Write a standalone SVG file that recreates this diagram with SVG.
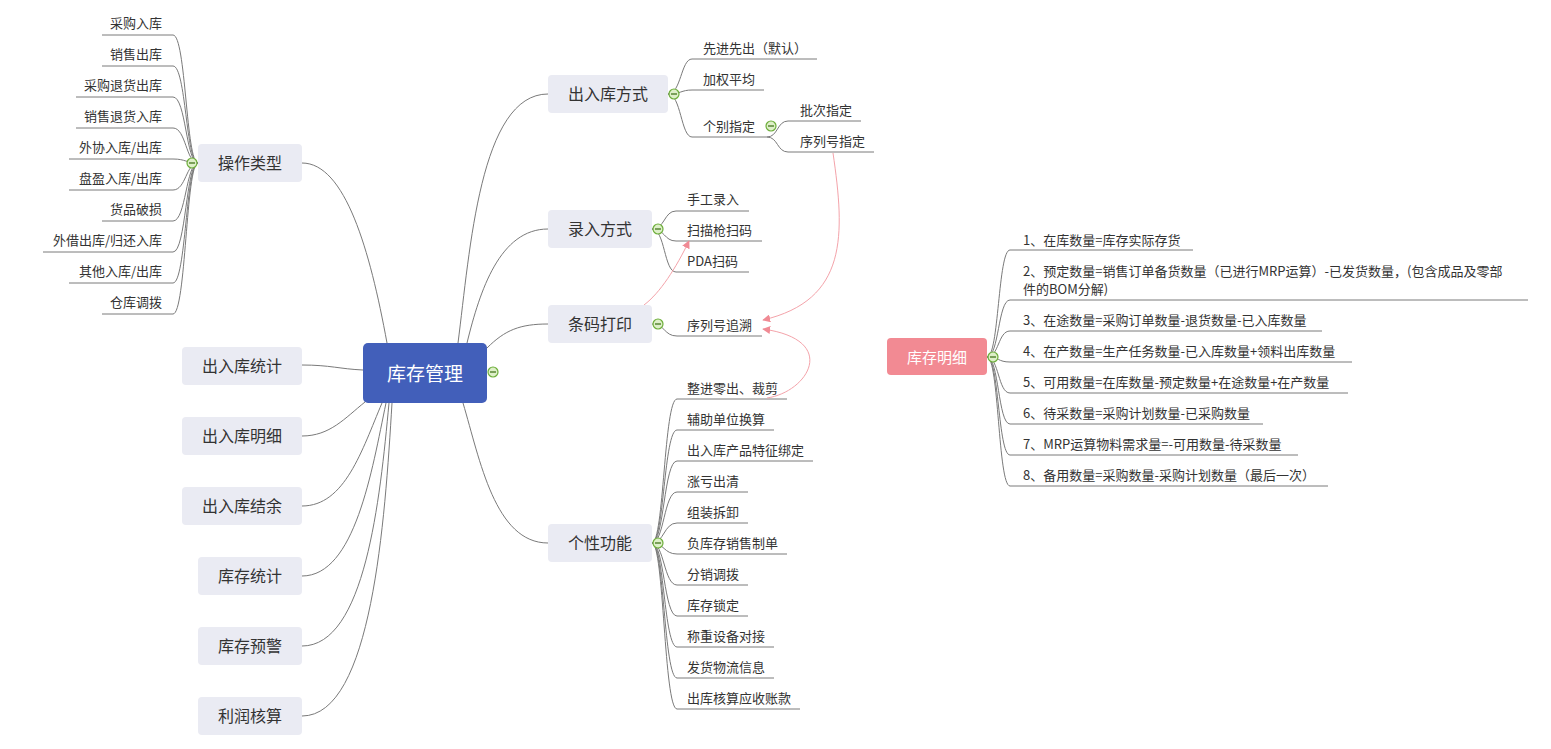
<svg xmlns="http://www.w3.org/2000/svg" width="1551" height="749" viewBox="0 0 1551 749">
<style>
text{font-family:"Microsoft YaHei","Noto Sans CJK SC","Noto Sans",sans-serif;dominant-baseline:central;fill:#333}
.leaf{font-size:13px}
.lt{font-size:13px;text-anchor:end}
.tn{font-size:16px;text-anchor:middle}
.node{fill:#EAEBF3}
.br{fill:none;stroke:#7a7a7a;stroke-width:1}
.rel{fill:none;stroke:#F4A3AA;stroke-width:1}
</style>
<defs>
<marker id="arr" viewBox="0 0 10 10" refX="9" refY="5" markerWidth="8" markerHeight="8" markerUnits="userSpaceOnUse" orient="auto"><path d="M0,0 L10,5 L0,10 z" fill="#F08A94"/></marker>
<g id="tg"><circle cx="0" cy="0" r="5" fill="#DDEFC8" stroke="#6DAE3A" stroke-width="1.2"/><line x1="-3" y1="0" x2="3" y2="0" stroke="#4E7F2A" stroke-width="1.4"/></g>
</defs>
<rect width="1551" height="749" fill="#fff"/>

<g id="connectors">
<path class="br" d="M302 163 C345 163 370 250 387 343"/>
<path class="br" d="M302 365 C330 365 340 369 363 370"/>
<path class="br" d="M302 436 C330 436 345 418 365 402"/>
<path class="br" d="M302 506 C345 506 362 450 382 403"/>
<path class="br" d="M302 576 C355 576 372 470 386 403"/>
<path class="br" d="M302 646 C365 646 380 500 389 403"/>
<path class="br" d="M302 716 C372 716 385 520 392 403"/>
<path class="br" d="M458 343 C470 250 480 94 548 94"/>
<path class="br" d="M467 343 C480 290 500 229 548 229"/>
<path class="br" d="M487 348 C505 330 520 324 548 324"/>
<path class="br" d="M463 403 C480 460 495 543 548 543"/>
<g id="c-ops">
<path class="br" d="M198 163 C186 163 186 35 173 35 L102 35"/>
<path class="br" d="M198 163 C186 163 186 66 173 66 L102 66"/>
<path class="br" d="M198 163 C186 163 186 97 173 97 L76 97"/>
<path class="br" d="M198 163 C186 163 186 128 173 128 L76 128"/>
<path class="br" d="M198 163 C186 163 186 159 173 159 L69 159"/>
<path class="br" d="M198 163 C186 163 186 190 173 190 L69 190"/>
<path class="br" d="M198 163 C186 163 186 221 173 221 L102 221"/>
<path class="br" d="M198 163 C186 163 186 252 173 252 L43 252"/>
<path class="br" d="M198 163 C186 163 186 283 173 283 L69 283"/>
<path class="br" d="M198 163 C186 163 186 314 173 314 L102 314"/>
</g>
<g id="c-mode">
<path class="br" d="M668 94 C681 94 681 59 692 59 L817 59"/>
<path class="br" d="M668 94 C681 94 681 90 692 90 L764 90"/>
<path class="br" d="M668 94 C681 94 681 137 692 137 L767 137"/>
<path class="br" d="M767 137 C778 137 777 121 788 121 L861 121"/>
<path class="br" d="M767 137 C778 137 777 152 788 152 L874 152"/>
</g>
<g id="c-input">
<path class="br" d="M652 229 C665 229 664 211 676 211 L749 211"/>
<path class="br" d="M652 229 C665 229 664 241 676 241 L762 241"/>
<path class="br" d="M652 229 C665 229 664 272 676 272 L749 272"/>
</g>
<path class="br" d="M652 324 C665 324 664 336 677 336 L762 336"/>
<g id="c-feat">
<path class="br" d="M652 543 C664 543 664 399 677 399 L787 399"/>
<path class="br" d="M652 543 C664 543 664 430 677 430 L774 430"/>
<path class="br" d="M652 543 C664 543 664 461 677 461 L813 461"/>
<path class="br" d="M652 543 C664 543 664 492 677 492 L748 492"/>
<path class="br" d="M652 543 C664 543 664 523 677 523 L748 523"/>
<path class="br" d="M652 543 C664 543 664 554 677 554 L787 554"/>
<path class="br" d="M652 543 C664 543 664 585 677 585 L748 585"/>
<path class="br" d="M652 543 C664 543 664 616 677 616 L748 616"/>
<path class="br" d="M652 543 C664 543 664 647 677 647 L774 647"/>
<path class="br" d="M652 543 C664 543 664 678 677 678 L774 678"/>
<path class="br" d="M652 543 C664 543 664 709 677 709 L800 709"/>
</g>
<g id="c-detail">
<path class="br" d="M987 357 C999 357 998 250 1010 250 L1193 250"/>
<path class="br" d="M987 357 C999 357 998 300 1010 300 L1528 300"/>
<path class="br" d="M987 357 C999 357 998 331 1010 331 L1322 331"/>
<path class="br" d="M987 357 C999 357 998 362 1010 362 L1352 362"/>
<path class="br" d="M987 357 C999 357 998 393 1010 393 L1348 393"/>
<path class="br" d="M987 357 C999 357 998 424 1010 424 L1263 424"/>
<path class="br" d="M987 357 C999 357 998 455 1010 455 L1298 455"/>
<path class="br" d="M987 357 C999 357 998 486 1010 486 L1328 486"/>
</g>
<g id="relations">
<path class="rel" marker-end="url(#arr)" d="M644 305 C660 293 676 268 689 241"/>
<path class="rel" marker-end="url(#arr)" d="M833 153 C845 235 848 300 763 320"/>
<path class="rel" marker-end="url(#arr)" d="M767 398 C808 392 840 340 763 329"/>
</g>
</g>

<g id="root">
<rect x="363" y="343" width="124" height="60" rx="5" fill="#425FBA"/>
<text x="425" y="372" style="font-size:19px;text-anchor:middle;fill:#fff">库存管理</text>
</g>

<g id="n-ops"><rect class="node" x="198" y="144" width="104" height="38" rx="4"/><text class="tn" x="250" y="162">操作类型</text></g>
<g id="n-stat"><rect class="node" x="182" y="347" width="120" height="38" rx="4"/><text class="tn" x="242" y="365">出入库统计</text></g>
<g id="n-detail"><rect class="node" x="182" y="417" width="120" height="38" rx="4"/><text class="tn" x="242" y="435">出入库明细</text></g>
<g id="n-bal"><rect class="node" x="182" y="487" width="120" height="38" rx="4"/><text class="tn" x="242" y="505">出入库结余</text></g>
<g id="n-invstat"><rect class="node" x="198" y="557" width="104" height="38" rx="4"/><text class="tn" x="250" y="575">库存统计</text></g>
<g id="n-warn"><rect class="node" x="198" y="627" width="104" height="38" rx="4"/><text class="tn" x="250" y="645">库存预警</text></g>
<g id="n-profit"><rect class="node" x="198" y="697" width="104" height="38" rx="4"/><text class="tn" x="250" y="715">利润核算</text></g>

<g id="n-mode"><rect class="node" x="548" y="75" width="120" height="38" rx="4"/><text class="tn" x="608" y="93">出入库方式</text></g>
<g id="n-input"><rect class="node" x="548" y="210" width="104" height="38" rx="4"/><text class="tn" x="600" y="228">录入方式</text></g>
<g id="n-barcode"><rect class="node" x="548" y="305" width="104" height="38" rx="4"/><text class="tn" x="600" y="323">条码打印</text></g>
<g id="n-feat"><rect class="node" x="548" y="524" width="104" height="38" rx="4"/><text class="tn" x="600" y="542">个性功能</text></g>

<g id="n-invdetail"><rect x="887" y="338" width="100" height="37" rx="4" fill="#F28A93"/><text x="937" y="356" style="font-size:15px;text-anchor:middle;fill:#fff">库存明细</text></g>

<g id="leaves-ops">
<text class="lt" x="162" y="22">采购入库</text>
<text class="lt" x="162" y="53">销售出库</text>
<text class="lt" x="162" y="84">采购退货出库</text>
<text class="lt" x="162" y="115">销售退货入库</text>
<text class="lt" x="162" y="146">外协入库/出库</text>
<text class="lt" x="162" y="177">盘盈入库/出库</text>
<text class="lt" x="162" y="208">货品破损</text>
<text class="lt" x="162" y="239">外借出库/归还入库</text>
<text class="lt" x="162" y="270">其他入库/出库</text>
<text class="lt" x="162" y="301">仓库调拨</text>
</g>

<g id="leaves-mode">
<text class="leaf" x="703" y="47">先进先出（默认）</text>
<text class="leaf" x="703" y="78">加权平均</text>
<text class="leaf" x="703" y="125">个别指定</text>
<text class="leaf" x="800" y="109">批次指定</text>
<text class="leaf" x="800" y="140">序列号指定</text>
</g>

<g id="leaves-input">
<text class="leaf" x="687" y="198">手工录入</text>
<text class="leaf" x="687" y="229">扫描枪扫码</text>
<text class="leaf" x="687" y="260">PDA扫码</text>
</g>

<g id="leaves-barcode">
<text class="leaf" x="687" y="324">序列号追溯</text>
</g>

<g id="leaves-feat">
<text class="leaf" x="687" y="387">整进零出、裁剪</text>
<text class="leaf" x="687" y="418">辅助单位换算</text>
<text class="leaf" x="687" y="449">出入库产品特征绑定</text>
<text class="leaf" x="687" y="480">涨亏出清</text>
<text class="leaf" x="687" y="511">组装拆卸</text>
<text class="leaf" x="687" y="542">负库存销售制单</text>
<text class="leaf" x="687" y="573">分销调拨</text>
<text class="leaf" x="687" y="604">库存锁定</text>
<text class="leaf" x="687" y="635">称重设备对接</text>
<text class="leaf" x="687" y="666">发货物流信息</text>
<text class="leaf" x="687" y="697">出库核算应收账款</text>
</g>

<g id="leaves-detail">
<text class="leaf" x="1023" y="239">1、在库数量=库存实际存货</text>
<text class="leaf" x="1023" y="270">2、预定数量=销售订单备货数量（已进行MRP运算）-已发货数量，(包含成品及零部</text>
<text class="leaf" x="1023" y="288">件的BOM分解)</text>
<text class="leaf" x="1023" y="319">3、在途数量=采购订单数量-退货数量-已入库数量</text>
<text class="leaf" x="1023" y="350">4、在产数量=生产任务数量-已入库数量+领料出库数量</text>
<text class="leaf" x="1023" y="381">5、可用数量=在库数量-预定数量+在途数量+在产数量</text>
<text class="leaf" x="1023" y="412">6、待采数量=采购计划数量-已采购数量</text>
<text class="leaf" x="1023" y="443">7、MRP运算物料需求量=-可用数量-待采数量</text>
<text class="leaf" x="1023" y="474">8、备用数量=采购数量-采购计划数量（最后一次）</text>
</g>

<g id="toggles">
<use href="#tg" x="192" y="163"/>
<use href="#tg" x="493" y="372"/>
<use href="#tg" x="674" y="94"/>
<use href="#tg" x="771" y="126"/>
<use href="#tg" x="658" y="229"/>
<use href="#tg" x="658" y="324"/>
<use href="#tg" x="658" y="543"/>
<use href="#tg" x="993" y="357"/>
</g>
</svg>
